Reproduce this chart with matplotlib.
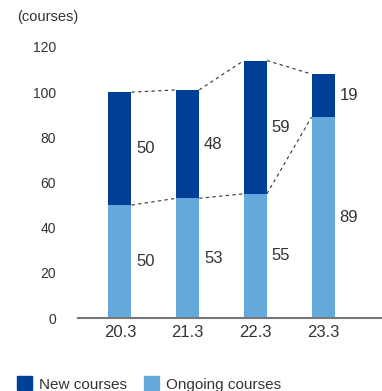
import matplotlib.pyplot as plt
from matplotlib.patches import Patch

plt.rcParams['font.family'] = ['Liberation Sans', 'DejaVu Sans']

years = ['20.3', '21.3', '22.3', '23.3']
ongoing = [50, 53, 55, 89]
new = [50, 48, 59, 19]

dark = '#003f98'
light = '#64a9dc'
txt = '#333333'

fig = plt.figure(figsize=(3.82, 3.91), dpi=100)
ax = fig.add_axes([78 / 382, 73 / 391, 304 / 382, 271 / 391])

x = range(len(years))
w = 0.34
ax.bar(x, ongoing, w, color=light)
ax.bar(x, new, w, bottom=ongoing, color=dark)

totals = [o + n for o, n in zip(ongoing, new)]

# dashed connectors between neighbouring bars
for i in range(len(years) - 1):
    for vals in (ongoing, totals):
        ax.plot([i + w / 2, i + 1 - w / 2], [vals[i], vals[i + 1]],
                ls=(0, (3, 3)), color='#333333', lw=0.8)

for i in x:
    ax.text(i + w / 2 + 0.07, ongoing[i] / 2, str(ongoing[i]),
            va='center', ha='left', fontsize=12, color=txt)
    ax.text(i + w / 2 + 0.07, ongoing[i] + new[i] / 2, str(new[i]),
            va='center', ha='left', fontsize=12, color=txt)

ax.set_xlim(-0.62, 3.87)
ax.set_ylim(0, 120)
ax.set_yticks(range(0, 121, 20))
ax.set_xticks(list(x))
ax.set_xticklabels(years)
ax.tick_params(axis='y', length=0, pad=16, labelsize=10, labelcolor=txt)
ax.tick_params(axis='x', length=0, pad=5, labelsize=12, labelcolor=txt)
for s in ('top', 'right', 'left'):
    ax.spines[s].set_visible(False)
ax.spines['bottom'].set_color('#777777')
ax.spines['bottom'].set_linewidth(1.5)

fig.text(17 / 382, 1 - 17 / 391, '(courses)', fontsize=10.5, color=txt,
         va='center', ha='left')

handles = [Patch(color=dark), Patch(color=light)]
fig.legend(handles, ['New courses', 'Ongoing courses'], loc='center left',
           bbox_to_anchor=(17 / 382, 7 / 391), ncol=2, frameon=False,
           fontsize=11, handlelength=1.0, handleheight=1.0,
           handletextpad=0.45, columnspacing=1.1, labelcolor=txt,
           borderpad=0, borderaxespad=0)

fig.savefig('out.png', dpi=100)
